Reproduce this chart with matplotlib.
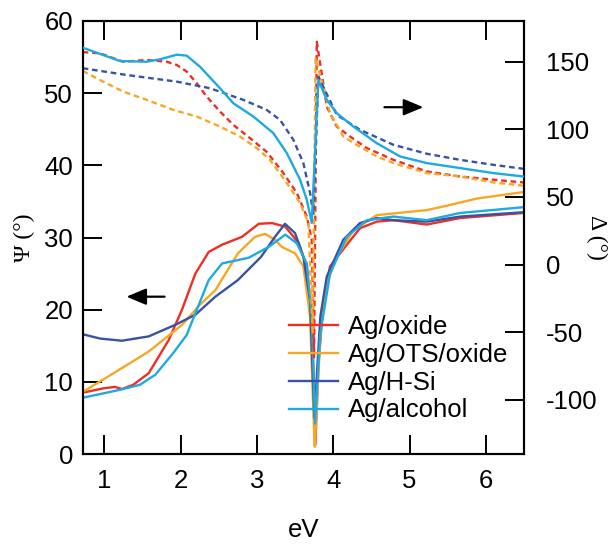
import matplotlib
matplotlib.use("Agg")
import matplotlib.pyplot as plt

plt.rcParams["font.family"] = ["Liberation Sans", "DejaVu Sans"]
plt.rcParams["axes.unicode_minus"] = False

labels = ["Ag/oxide", "Ag/OTS/oxide", "Ag/H-Si", "Ag/alcohol"]
colors = ["#ed2f24", "#f7a823", "#3953a4", "#1ea9e1"]

# Psi (left axis), one curve per sample
psi_ev_oxide = [0.717, 0.987, 1.140, 1.232, 1.380, 1.582, 1.844, 2.018, 2.193, 2.368,
                2.543, 2.805, 3.024, 3.198, 3.372, 3.548, 3.653, 3.696, 3.739, 3.765,
                3.805, 3.870, 3.958, 4.177, 4.351, 4.570, 4.788, 5.225, 5.662, 6.491]
psi_oxide = [8.5, 9.1, 9.3, 9.0, 9.6, 11.2, 15.8, 20.0, 25.0, 28.0,
             29.0, 30.1, 31.9, 32.0, 31.5, 29.2, 26.0, 21.3, 12.1, 1.3,
             12.0, 21.3, 26.0, 29.0, 31.3, 32.2, 32.4, 31.8, 32.7, 33.4]

psi_ev_ots = [0.717, 1.075, 1.582, 2.018, 2.254, 2.455, 2.750, 2.975, 3.106, 3.237,
              3.325, 3.500, 3.608, 3.696, 3.752, 3.758, 3.830, 3.915, 4.046, 4.263,
              4.570, 5.225, 5.443, 5.881, 6.491]
psi_ots = [8.6, 10.9, 14.2, 17.9, 20.7, 22.7, 27.8, 30.1, 30.5, 29.7,
           28.7, 27.8, 26.0, 19.0, 1.9, 1.0, 16.5, 23.6, 27.3, 31.0,
           33.1, 33.8, 34.3, 35.4, 36.3]

psi_ev_hsi = [0.717, 0.944, 1.232, 1.582, 1.930, 2.193, 2.455, 2.750, 3.052, 3.237,
              3.368, 3.500, 3.608, 3.696, 3.752, 3.830, 3.915, 4.132, 4.350, 4.570,
              4.788, 5.225, 5.662, 6.491]
psi_hsi = [16.6, 16.0, 15.7, 16.3, 17.9, 19.3, 21.8, 24.1, 27.3, 30.1,
           31.9, 30.6, 27.3, 21.3, 5.0, 19.0, 24.6, 29.7, 32.0, 32.7,
           32.4, 32.2, 32.9, 33.5]

psi_ev_alc = [0.717, 0.987, 1.206, 1.468, 1.670, 1.904, 2.080, 2.193, 2.368, 2.543,
              2.893, 3.153, 3.372, 3.522, 3.653, 3.718, 3.761, 3.830, 3.958, 4.177,
              4.439, 4.788, 5.225, 5.662, 6.491]
psi_alc = [7.8, 8.4, 8.9, 9.6, 11.0, 14.0, 16.5, 19.5, 24.1, 26.4,
           27.2, 28.7, 30.4, 29.2, 26.4, 19.0, 4.2, 16.7, 25.0, 30.1,
           32.4, 32.9, 32.4, 33.4, 34.2]

# Delta (right axis)
dl_ev_oxide = [0.717, 0.944, 1.249, 1.556, 1.818, 1.949, 2.080, 2.211, 2.342, 2.516,
               2.691, 2.910, 3.128, 3.346, 3.522, 3.653, 3.718, 3.748, 3.784, 3.915,
               4.046, 4.220, 4.439, 4.788, 5.225, 5.662, 6.098, 6.491]
dl_oxide = [157.0, 156.1, 149.9, 151.2, 149.9, 147.5, 142.6, 134.0, 124.1, 113.1,
            103.2, 93.4, 83.3, 67.6, 52.9, 35.6, 18.4, -68.6, 164.7, 116.7,
            102.0, 94.6, 86.1, 77.4, 68.8, 65.1, 62.7, 60.7]

dl_ev_ots = [0.717, 0.944, 1.249, 1.556, 1.904, 2.211, 2.516, 2.778, 2.997, 3.171,
             3.391, 3.565, 3.674, 3.731, 3.768, 3.958, 4.132, 4.308, 4.570, 4.788,
             5.225, 5.662, 6.098, 6.491]
dl_ots = [143.1, 136.4, 127.8, 121.7, 114.3, 109.4, 102.0, 94.6, 86.1, 77.4,
          60.3, 45.5, 30.8, -50.1, 152.7, 111.9, 94.6, 88.5, 79.9, 75.0,
          67.6, 65.1, 60.7, 58.3]

dl_ev_hsi = [0.717, 1.294, 1.949, 2.385, 2.822, 3.128, 3.303, 3.477, 3.608, 3.696,
             3.739, 3.805, 4.046, 4.350, 4.788, 5.225, 5.662, 6.098, 6.491]
dl_hsi = [145.1, 140.1, 135.2, 130.3, 121.7, 114.3, 106.9, 92.2, 75.0, 52.9,
          37.0, 138.9, 110.6, 99.6, 88.5, 81.9, 77.4, 73.7, 70.8]

dl_ev_alc = [0.717, 1.206, 1.556, 1.730, 1.949, 2.080, 2.254, 2.516, 2.691, 2.953,
             3.215, 3.391, 3.565, 3.653, 3.718, 3.805, 3.915, 4.046, 4.263, 4.570,
             4.875, 5.225, 5.662, 6.098, 6.491]
dl_alc = [160.3, 150.4, 149.9, 151.7, 155.1, 154.4, 146.2, 130.3, 119.2, 109.4,
          97.1, 82.4, 62.7, 47.9, 30.8, 136.4, 121.7, 111.9, 102.0, 89.7,
          79.9, 75.0, 71.3, 67.6, 65.1]

psi_x = [psi_ev_oxide, psi_ev_ots, psi_ev_hsi, psi_ev_alc]
psi_y = [psi_oxide, psi_ots, psi_hsi, psi_alc]
dl_x = [dl_ev_oxide, dl_ev_ots, dl_ev_hsi, dl_ev_alc]
dl_y = [dl_oxide, dl_ots, dl_hsi, dl_alc]

fig = plt.figure(figsize=(6.08, 5.44), dpi=100)
ax = fig.add_axes([0.136, 0.1654, 0.726, 0.796])
ax2 = ax.twinx()

for xs, ys, c, lab in zip(psi_x, psi_y, colors, labels):
    ax.plot(xs, ys, color=c, lw=1.7, label=lab)

dash = (0, (2.4, 1.6))
for i, (xs, ys, c) in enumerate(zip(dl_x, dl_y, colors)):
    ls = "-" if i == 3 else dash
    ax2.plot(xs, ys, color=c, lw=1.7, linestyle=ls, zorder=3 if i == 3 else 2)

ax.set_xlim(0.717, 6.5)
ax.set_ylim(0, 60)
ax2.set_ylim(-140, 180)
ax.set_xticks([1, 2, 3, 4, 5, 6])
ax.set_yticks(range(0, 61, 10))
ax2.set_yticks([-100, -50, 0, 50, 100, 150])

for s in list(ax.spines.values()) + list(ax2.spines.values()):
    s.set_linewidth(1.5)

ax.tick_params(axis="x", direction="in", length=14, width=1.4, top=True,
               labelsize=18.5, pad=11)
ax.tick_params(axis="y", direction="in", length=14, width=1.4,
               labelsize=18.5, pad=7)
ax2.tick_params(axis="y", direction="in", length=14, width=1.4,
                labelsize=18.5, pad=16)

ax.set_xlabel("eV", fontsize=18.5)
ax.xaxis.set_label_coords(0.5, -0.148)
ax.set_ylabel("Ψ (°)", fontsize=17, family=["Liberation Serif", "DejaVu Serif"])
ax.yaxis.set_label_coords(-0.108, 0.5)
ax2.set_ylabel("Δ (°)", fontsize=17, rotation=270,
               family=["Liberation Serif", "DejaVu Serif"])
ax2.yaxis.set_label_coords(1.188, 0.5)

arrow = dict(arrowstyle="-|>,head_length=0.6,head_width=0.25", color="black",
             lw=1.6, shrinkA=0, shrinkB=0, mutation_scale=20)
ax.annotate("", xy=(1.29, 21.8), xytext=(1.79, 21.8), arrowprops=arrow)
ax2.annotate("", xy=(5.18, 116.3), xytext=(4.67, 116.3), arrowprops=arrow)

leg = ax.legend(loc="center left", bbox_to_anchor=(0.467, 0.197), frameon=False,
                fontsize=18.5, borderpad=0, borderaxespad=0, handlelength=1.9,
                handletextpad=0.4, labelspacing=0.15)
ax.set_zorder(ax2.get_zorder() - 1)
ax.patch.set_visible(True)
ax2.patch.set_visible(False)
# keep the legend above the Delta curves
leg.remove()
ax2.add_artist(leg)

fig.savefig("out.png", dpi=100)
